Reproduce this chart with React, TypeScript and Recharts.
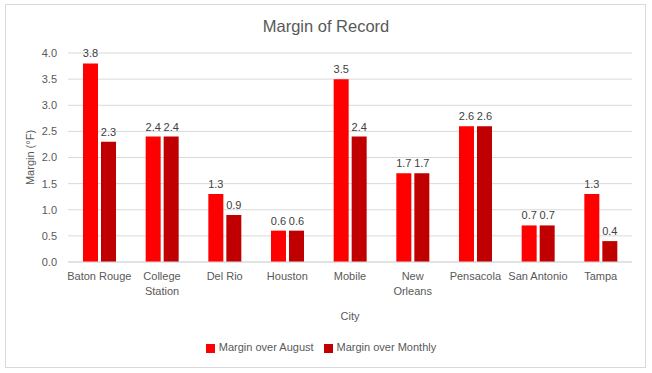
import React from "react";
import { BarChart, Bar, XAxis, YAxis, CartesianGrid, Legend, LabelList, Label } from "recharts";

const cities = ["Baton Rouge", "College Station", "Del Rio", "Houston", "Mobile", "New Orleans", "Pensacola", "San Antonio", "Tampa"];
const tickLines = [["Baton Rouge"], ["College", "Station"], ["Del Rio"], ["Houston"], ["Mobile"], ["New", "Orleans"], ["Pensacola"], ["San Antonio"], ["Tampa"]];
const marginOverAugust = [3.8, 2.4, 1.3, 0.6, 3.5, 1.7, 2.6, 0.7, 1.3];
const marginOverMonthly = [2.3, 2.4, 0.9, 0.6, 2.4, 1.7, 2.6, 0.7, 0.4];
const yTicks = [0, 0.5, 1, 1.5, 2, 2.5, 3, 3.5, 4];

const data = cities.map((c, i) => ({ city: c, august: marginOverAugust[i], monthly: marginOverMonthly[i] }));

const FONT = "'Liberation Sans', Arial, sans-serif";
const TXT = "#595959";

const CityTick = (props: any) => {
  const { x, y, payload } = props;
  const idx = cities.indexOf(payload.value);
  const lines = idx >= 0 ? tickLines[idx] : [payload.value];
  return (
    <text x={x} y={y} textAnchor="middle" fill={TXT} fontSize={11} fontFamily={FONT}>
      {lines.map((l: string, i: number) => (
        <tspan key={i} x={x} dy={i === 0 ? "0.71em" : 15}>{l}</tspan>
      ))}
    </text>
  );
};

export default function App() {
  return (
    <div style={{ position: "absolute", left: 0, top: 0, width: 652, height: 373, background: "#fff", fontFamily: FONT }}>
      <div style={{ position: "absolute", left: 0, top: 17, width: 652, textAlign: "center", fontSize: 16.5, color: TXT, fontFamily: FONT }}>
        Margin of Record
      </div>
      <div style={{ position: "absolute", left: 0, top: 0 }}>
        <BarChart width={652} height={373} data={data} margin={{ top: 53, right: 20, bottom: 53, left: 0 }} barSize={15} barGap={3}>
          <CartesianGrid vertical={false} stroke="#D9D9D9" />
          <XAxis dataKey="city" height={58} tickLine={false} axisLine={{ stroke: "#D9D9D9" }} tickSize={0} tickMargin={10} tick={<CityTick />} interval={0}>
            <Label value="City" position="insideBottom" offset={0} fill={TXT} fontSize={11} fontFamily={FONT} />
          </XAxis>
          <YAxis width={68} domain={[0, 4]} ticks={yTicks} tickFormatter={(v: number) => v.toFixed(1)} tickLine={false} axisLine={false} tickSize={0} tickMargin={11} tick={{ fill: TXT, fontSize: 11, fontFamily: FONT }}>
            <Label value="Margin (°F)" angle={-90} position="center" dx={-4} fill={TXT} fontSize={11} fontFamily={FONT} />
          </YAxis>
          <Legend
            layout="horizontal"
            verticalAlign="middle"
            align="center"
            iconType="square"
            iconSize={9}
            wrapperStyle={{ top: 341, left: 0, width: 652, fontSize: 11, fontFamily: FONT }}
            formatter={(v: string) => <span style={{ color: TXT }}>{v}</span>}
          />
          <Bar dataKey="august" name="Margin over August" fill="#FF0000" isAnimationActive={false}>
            <LabelList dataKey="august" position="top" offset={6} fill="#404040" fontSize={11} fontFamily={FONT} />
          </Bar>
          <Bar dataKey="monthly" name="Margin over Monthly" fill="#C00000" isAnimationActive={false}>
            <LabelList dataKey="monthly" position="top" offset={6} fill="#404040" fontSize={11} fontFamily={FONT} />
          </Bar>
        </BarChart>
      </div>
      <div style={{ position: "absolute", left: 5, top: 4, width: 639, height: 362, border: "1px solid #D9D9D9", pointerEvents: "none" }} />
    </div>
  );
}
